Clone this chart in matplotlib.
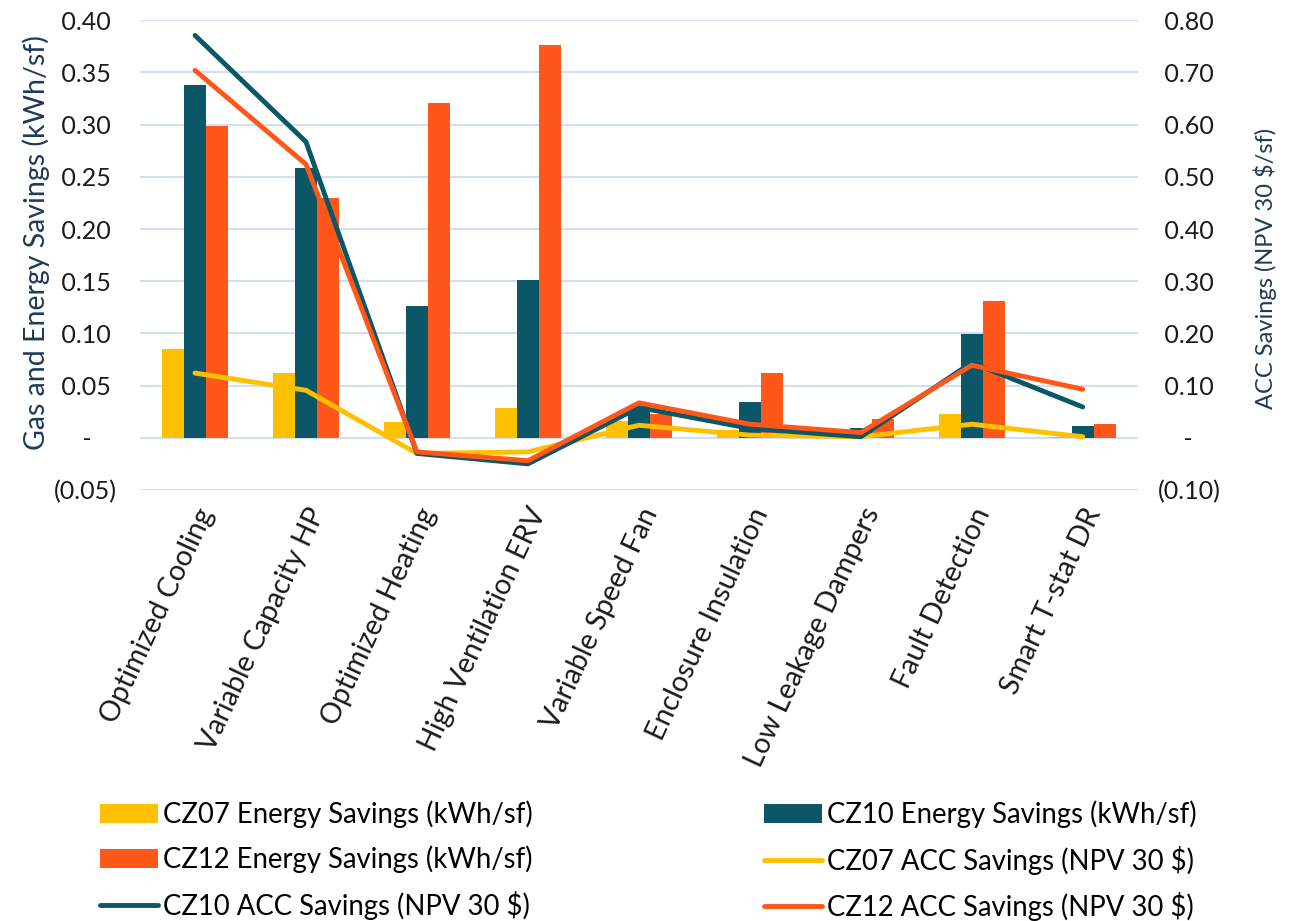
import numpy as np
import matplotlib.pyplot as plt
from matplotlib.ticker import FuncFormatter

plt.rcParams['font.family'] = ['Lato', 'DejaVu Sans']

measures = ['Optimized Cooling', 'Variable Capacity HP', 'Optimized Heating',
            'High Ventilation ERV', 'Variable Speed Fan', 'Enclosure Insulation',
            'Low Leakage Dampers', 'Fault Detection', 'Smart T-stat DR']

# energy savings (kWh/sf), left axis
cz07_energy = [0.085, 0.062, 0.015, 0.029, 0.016, 0.007, 0.001, 0.023, 0.001]
cz10_energy = [0.338, 0.258, 0.126, 0.151, 0.030, 0.034, 0.009, 0.099, 0.011]
cz12_energy = [0.299, 0.230, 0.321, 0.376, 0.023, 0.062, 0.018, 0.131, 0.013]

# ACC savings (NPV 30 $/sf), right axis
cz07_acc = [0.124, 0.091, -0.030, -0.027, 0.024, 0.005, 0.002, 0.026, 0.002]
cz10_acc = [0.771, 0.567, -0.030, -0.050, 0.058, 0.018, 0.002, 0.144, 0.059]
cz12_acc = [0.704, 0.524, -0.027, -0.044, 0.067, 0.026, 0.010, 0.139, 0.093]

c_yellow = '#FFC000'
c_teal = '#0B5667'
c_orange = '#FF571A'
grid_col = '#D3DEF2'
label_col = '#1F3A5A'
tick_col = '#1a1a1a'


def acct(v, pos):
    # accounting style: dash for zero, brackets for negatives
    if abs(v) < 1e-9:
        return '    -    '
    if v < 0:
        return f'({abs(v):.2f})'
    return f' {v:.2f} '


fig = plt.figure(figsize=(12.92, 9.21), dpi=100)
ax = fig.add_axes([0.108, 0.468, 0.773, 0.51])
ax2 = ax.twinx()

x = np.arange(len(measures))
w = 0.2
b1 = ax.bar(x - w, cz07_energy, w, color=c_yellow, label='CZ07 Energy Savings (kWh/sf)')
b2 = ax.bar(x, cz10_energy, w, color=c_teal, label='CZ10 Energy Savings (kWh/sf)')
b3 = ax.bar(x + w, cz12_energy, w, color=c_orange, label='CZ12 Energy Savings (kWh/sf)')

line_kw = dict(lw=3.5, solid_capstyle='round', solid_joinstyle='round')
l1, = ax2.plot(x, cz07_acc, color=c_yellow, label='CZ07 ACC Savings (NPV 30 $)', **line_kw)
l2, = ax2.plot(x, cz10_acc, color=c_teal, label='CZ10 ACC Savings (NPV 30 $)', **line_kw)
l3, = ax2.plot(x, cz12_acc, color=c_orange, label='CZ12 ACC Savings (NPV 30 $)', **line_kw)

ax.set_xlim(-0.5, len(measures) - 0.5)
ax.set_ylim(-0.05, 0.40)
ax.set_yticks(np.arange(-0.05, 0.401, 0.05))
ax2.set_ylim(-0.10, 0.80)
ax2.set_yticks(np.arange(-0.10, 0.801, 0.10))
ax.yaxis.set_major_formatter(FuncFormatter(acct))
ax2.yaxis.set_major_formatter(FuncFormatter(acct))

ax.grid(axis='y', color=grid_col, lw=1.5)
ax.set_axisbelow(True)
for a in (ax, ax2):
    for s in a.spines.values():
        s.set_visible(False)
    a.tick_params(length=0, labelsize=18, colors=tick_col)
ax.tick_params(axis='y', pad=16)
ax2.tick_params(axis='y', pad=14)

ax.set_xticks(x)
ax.set_xticklabels(measures, rotation=65, ha='right', rotation_mode='anchor', fontsize=20.5)
ax.tick_params(axis='x', pad=10)

ax.set_ylabel('Gas and Energy Savings (kWh/sf)', fontsize=20.5, color=label_col)
ax2.set_ylabel('ACC Savings (NPV 30 $/sf)', fontsize=17, color=label_col)
ax.yaxis.set_label_coords(-0.090, 0.526)
ax2.yaxis.set_label_coords(1.115, 0.472)

handles = [b1, b3, l2, b2, l1, l3]
fig.legend(handles, [h.get_label() for h in handles], ncol=2, frameon=False,
           loc='lower left', bbox_to_anchor=(0.0774, 0.0), fontsize=19.8,
           borderpad=0, borderaxespad=0, columnspacing=8.4,
           handlelength=2.1, handletextpad=0.2, labelspacing=0.635)

fig.savefig('out.png', dpi=100)
